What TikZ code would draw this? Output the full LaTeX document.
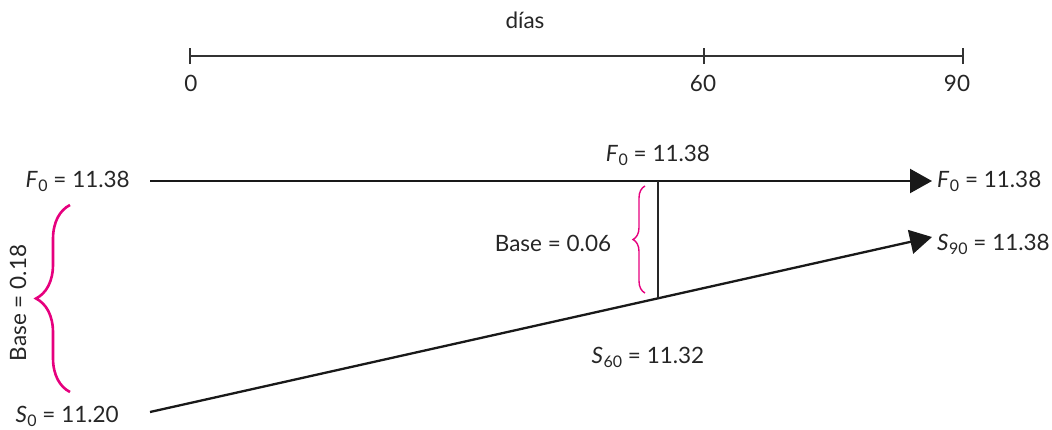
\documentclass[tikz,border=0pt]{standalone}
\usepackage{fontspec}
\setmainfont{Lato}
\usetikzlibrary{arrows.meta,decorations.pathreplacing,calc}
\definecolor{brpink}{HTML}{E6007E}
\newcommand\subl[2]{\textit{#1}\kern0.5pt\raisebox{-0.35ex}{\fontsize{16}{16}\selectfont #2}}
\begin{document}
\begin{tikzpicture}[x=1pt,y=-1pt,
  lbl/.style={inner sep=0pt,font=\fontsize{22.5}{26}\selectfont,text=black!85},
  axis/.style={line width=1.6pt,black!80},
  mainline/.style={line width=2.3pt,black!90},
  tip/.style={-{Triangle[length=22pt,width=24pt]}},
  bracestyle/.style={draw=brpink,decorate,decoration={brace,amplitude=#1}}]
\useasboundingbox (0,0) rectangle (1052,429);
% timeline
\coordinate (t0) at (190,56);
\coordinate (t60) at (704,56);
\coordinate (t90) at (963,56);
\draw[axis] (t0) -- (t90);
\foreach \c in {t0,t60,t90} \draw[axis] ([yshift=-8pt]\c) -- ([yshift=8pt]\c);
\node[lbl] (dias) at (525,20) {días};
\node[lbl] (l0) at (191,83) {0};
\node[lbl] (l60) at (703,83) {60};
\node[lbl] (l90) at (957,83) {90};
% forward line
\coordinate (fs) at (150,181);
\coordinate (fe) at (932,181);
\draw[mainline,tip] (fs) -- (fe);
\node[lbl,anchor=east] (fleft) at (130,181) {\subl{F}{0} = 11.38};
\node[lbl,anchor=west] (fright) at (937,181) {\subl{F}{0} = 11.38};
\node[lbl] (fmid) at (658,155) {\subl{F}{0} = 11.38};
% spot line
\coordinate (ss) at (150,412);
\coordinate (se) at (932,237);
\draw[mainline,tip] (ss) -- (se);
\node[lbl,anchor=east] (sleft) at (119,416) {\subl{S}{0} = 11.20};
\node[lbl,anchor=west] (sright) at (937,244) {\subl{S}{90} = 11.38};
\node[lbl] (smid) at (648,357) {\subl{S}{60} = 11.32};
% vertical
\coordinate (vt) at (658,181);
\coordinate (vb) at (658,298);
\draw[line width=1.5pt,black!85] (vt) -- (vb);
% braces
\draw[bracestyle=34pt,line width=2.6pt] (70,392) -- (70,205);
\node[lbl,rotate=90] (b18) at (18,303) {Base = 0.18};
\draw[bracestyle=12pt,line width=1.4pt] (645,293) -- (645,186);
\node[lbl] (b06) at (553,243) {Base = 0.06};
\end{tikzpicture}
\end{document}
